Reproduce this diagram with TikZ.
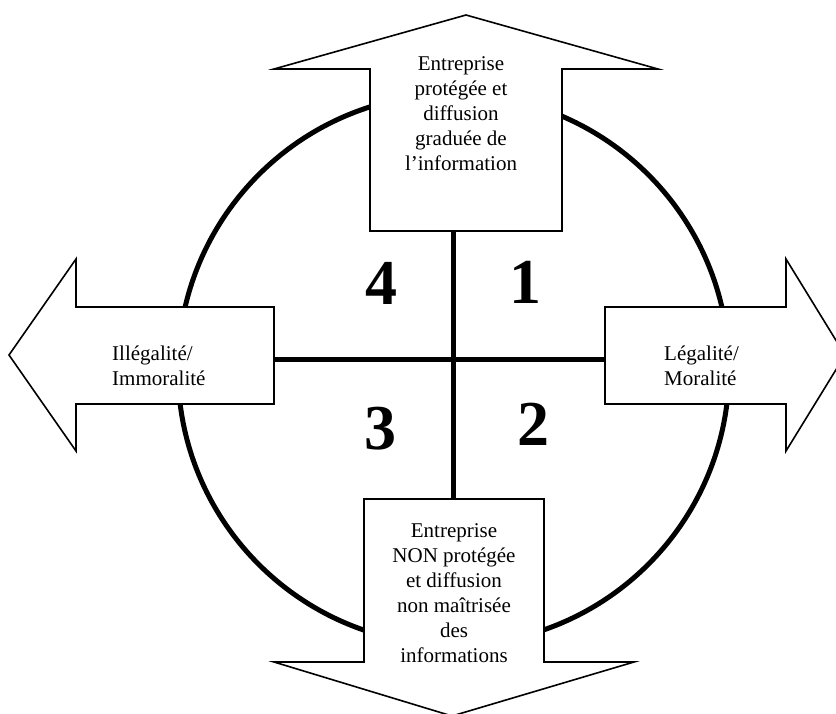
\documentclass[tikz,border=0pt]{standalone}
\usepackage{fontspec}
\setmainfont{Liberation Serif}
\begin{document}
\begin{tikzpicture}[x=1pt,y=-1pt,
  arrowshape/.style={draw=black,fill=white,line width=1.6pt,line join=miter},
  ring/.style={draw=black,line width=5pt},
  crossline/.style={draw=black,line width=5pt},
  label/.style={font=\fontsize{21}{25}\selectfont,inner sep=0pt},
  digit/.style={font=\fontsize{64}{64}\selectfont\bfseries,inner sep=0pt}]
\useasboundingbox (0,0) rectangle (836,713);
\clip (0,0) rectangle (836,713);
% circle
\draw[ring] (453.5,369.5) circle[radius=275.5];
% arrows
\draw[arrowshape] (370,231) -- (370,69) -- (274,69) -- (466,15) -- (658,69) -- (562,69) -- (562,231) -- cycle;
\draw[arrowshape] (364,499) -- (544,499) -- (544,662) -- (634,662) -- (452,716) -- (274,662) -- (364,662) -- cycle;
\draw[arrowshape] (274,307) -- (76,307) -- (76,259) -- (9,355) -- (76,451) -- (76,404) -- (274,404) -- cycle;
\draw[arrowshape] (605,307) -- (786,307) -- (786,259) -- (845,355) -- (786,451) -- (786,404) -- (605,404) -- cycle;
% cross end points
\coordinate (ctop) at (453,231);
\coordinate (cbot) at (453,499);
\coordinate (cleft) at (274,359);
\coordinate (cright) at (605,359);
\draw[crossline] (ctop) -- (cbot);
\draw[crossline] (cleft) -- (cright);
% texts
\node[label,align=center] (ttop) at (461,114) {Entreprise\\protégée et\\diffusion\\graduée de\\l’information};
\node[label,align=center] (tbot) at (454,593) {Entreprise\\NON protégée\\et diffusion\\non maîtrisée\\des\\informations};
\node[label,align=left,anchor=west] (tleft) at (112,366) {Illégalité/\\Immoralité};
\node[label,align=left,anchor=west] (tright) at (664,366) {Légalité/\\Moralité};
\node[digit] (d4) at (381,283.5) {4};
\node[digit] (d1) at (525.5,282.5) {1};
\node[digit] (d3) at (380.5,428.5) {3};
\node[digit] (d2) at (533,424) {2};
\end{tikzpicture}
\end{document}
